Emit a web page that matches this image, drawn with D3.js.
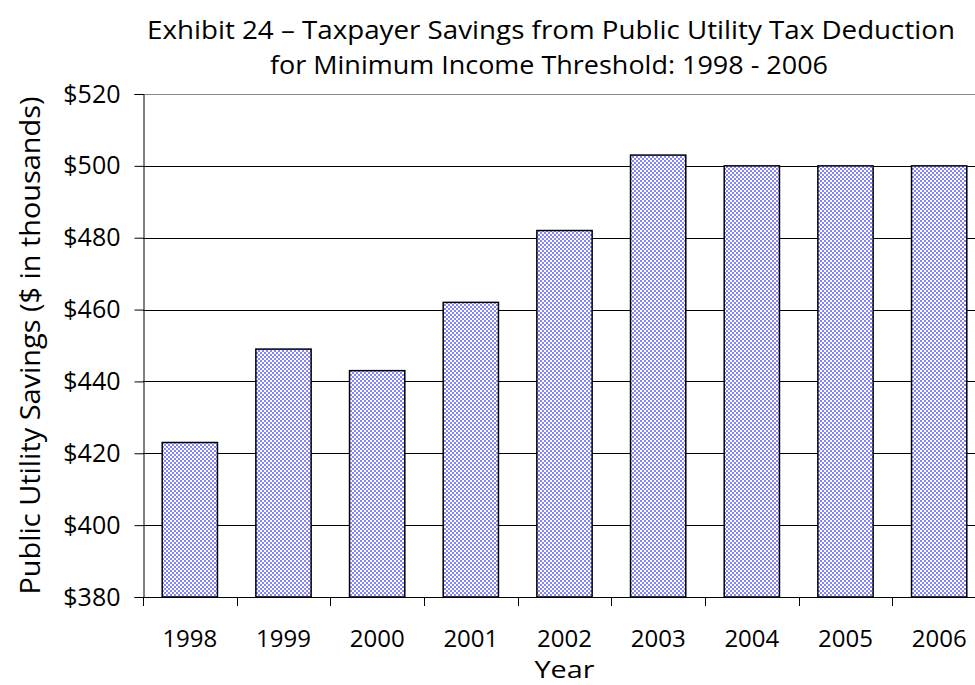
<!DOCTYPE html>
<html>
<head>
<meta charset="utf-8">
<script src="https://cdn.jsdelivr.net/npm/d3@7"></script>
<style>
  html, body { margin: 0; padding: 0; background: #fff; }
  svg { display: block; }
  text { font-family: "Open Sans", "Noto Sans", sans-serif; fill: #000; }
</style>
</head>
<body>
<svg id="chart" width="975" height="685"></svg>
<script>
const years = ["1998", "1999", "2000", "2001", "2002", "2003", "2004", "2005", "2006"];
const savings = [423, 449, 443, 462, 482, 503, 500, 500, 500];
const yTicks = [380, 400, 420, 440, 460, 480, 500, 520];
const titleLines = ["Exhibit 24 \u2013 Taxpayer Savings from Public Utility Tax Deduction",
                    "for Minimum Income Threshold: 1998 - 2006"];
const xTitle = "Year";
const yTitle = "Public Utility Savings ($ in thousands)";

const svg = d3.select("#chart");
const margin = { left: 143, top: 94, bottom: 597, right: 986 };

const x = d3.scaleBand().domain(years).range([margin.left, margin.right]).paddingInner(0.41).paddingOuter(0.205);
const xEdge = d3.scaleLinear().domain([0, years.length]).range([margin.left, margin.right]);
const y = d3.scaleLinear().domain([380, 520]).range([margin.bottom, margin.top]);

// pattern
const defs = svg.append("defs");
const pat = defs.append("pattern").attr("id", "checker").attr("patternUnits", "userSpaceOnUse")
  .attr("width", 4).attr("height", 4);
pat.append("rect").attr("width", 4).attr("height", 4).attr("fill", "#ffffff");
pat.append("rect").attr("x", 0).attr("y", 0).attr("width", 2).attr("height", 2).attr("fill", "#8585fa");
pat.append("rect").attr("x", 2).attr("y", 2).attr("width", 2).attr("height", 2).attr("fill", "#8585fa");

// gridlines
svg.append("g").selectAll("line").data(yTicks.filter(d => d !== 380)).join("line")
  .attr("x1", margin.left).attr("x2", 975)
  .attr("y1", d => Math.round(y(d)) + 0.5).attr("y2", d => Math.round(y(d)) + 0.5)
  .attr("stroke", d => d === 520 ? "#888" : "#000").attr("stroke-width", 1);

// bars
svg.append("g").selectAll("rect").data(years).join("rect")
  .attr("x", d => x(d))
  .attr("y", (d, i) => y(savings[i]))
  .attr("width", x.bandwidth())
  .attr("height", (d, i) => y(380) - y(savings[i]))
  .attr("fill", "url(#checker)")
  .attr("stroke", "#000").attr("stroke-width", 1.5);

// y axis
const yAxis = d3.axisLeft(y).tickValues(yTicks).tickFormat(d => "$" + d).tickSize(9).tickPadding(14);
const gy = svg.append("g").attr("transform", `translate(${margin.left + 0.5},0)`).call(yAxis);
gy.select(".domain").attr("stroke", "#000");
gy.selectAll(".tick line").attr("stroke", "#000");
gy.selectAll(".tick text").style("font-size", "25px").style("font-family", "'Open Sans', sans-serif").attr("fill", "#000");

// x axis line and edge ticks
svg.append("line").attr("x1", margin.left).attr("x2", 975)
  .attr("y1", margin.bottom + 0.5).attr("y2", margin.bottom + 0.5).attr("stroke", "#000");
svg.append("g").selectAll("line").data(d3.range(0, years.length + 1)).join("line")
  .attr("x1", d => Math.round(xEdge(d)) + 0.5).attr("x2", d => Math.round(xEdge(d)) + 0.5)
  .attr("y1", margin.bottom).attr("y2", margin.bottom + 9).attr("stroke", "#000");

// x tick labels
svg.append("g").selectAll("text").data(years).join("text")
  .attr("x", d => x(d) + x.bandwidth() / 2)
  .attr("y", 647)
  .attr("text-anchor", "middle")
  .style("font-size", "24px")
  .text(d => d);

// axis titles
svg.append("text").attr("x", (margin.left + margin.right) / 2).attr("y", 678)
  .attr("text-anchor", "middle").style("font-size", "24px")
  .attr("textLength", 60).attr("lengthAdjust", "spacingAndGlyphs").text(xTitle);

svg.append("text")
  .attr("transform", `translate(40,${(margin.top + margin.bottom) / 2}) rotate(-90)`)
  .attr("text-anchor", "middle").style("font-size", "27px")
  .attr("textLength", 498).attr("lengthAdjust", "spacingAndGlyphs")
  .text(yTitle);

// title
svg.append("text").attr("x", 551).attr("y", 39).attr("text-anchor", "middle")
  .style("font-size", "26px").attr("textLength", 808).attr("lengthAdjust", "spacingAndGlyphs")
  .text(titleLines[0]);
svg.append("text").attr("x", 549).attr("y", 74).attr("text-anchor", "middle")
  .style("font-size", "26px").attr("textLength", 558).attr("lengthAdjust", "spacingAndGlyphs")
  .text(titleLines[1]);
</script>
</body>
</html>
